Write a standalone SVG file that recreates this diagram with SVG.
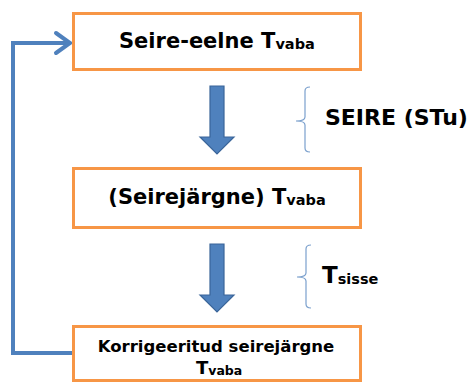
<svg xmlns="http://www.w3.org/2000/svg" width="472" height="383" viewBox="0 0 472 383">
<defs>
<style>
.box{fill:#fff;stroke:#F79646;stroke-width:3}
.t{font-family:"DejaVu Sans",Verdana,sans-serif;font-weight:bold;fill:#000}
.down{fill:#4F81BD;stroke:#3A6599;stroke-width:1.2}
.brace{fill:none;stroke:#7BA0CD;stroke-width:1.2}
.conn{fill:none;stroke:#4F81BD;stroke-width:4;stroke-linejoin:miter}
</style>
</defs>
<rect width="472" height="383" fill="#fff"/>
<g id="connectors">
<polyline class="conn" points="73,353 13,353 13,43 70,43"/>
<polyline class="conn" points="56,33 70,43 56,53" stroke-width="4.5" stroke-linecap="round" stroke-linejoin="round"/>
<path id="arrow1" class="down" d="M210,86 H224 V137 H234 L217,154 L200,137 H210 Z"/>
<path id="arrow2" class="down" d="M210,244 H224 V295 H234 L217,312 L200,295 H210 Z"/>
<path class="brace" d="M310,87 Q305,87 305,91 V117 Q305,121 296,121 Q305,121 305,125 V148 Q305,152 310,152"/>
<path class="brace" d="M311,245 Q306,245 306,249 V273 Q306,277 297,277 Q306,277 306,281 V304 Q306,308 311,308"/>
</g>
<g id="node1">
<rect class="box" x="73.5" y="13.5" width="287" height="56"/>
<text class="t" x="119" y="48" font-size="21">Seire-eelne T<tspan font-size="14.5" dy="1">vaba</tspan></text>
</g>
<g id="node2">
<rect class="box" x="73.5" y="168.5" width="287" height="59"/>
<text class="t" x="217" y="204" font-size="21" text-anchor="middle">(Seirejärgne) T<tspan font-size="14.5" dy="1">vaba</tspan></text>
</g>
<g id="node3">
<rect class="box" x="73.5" y="326.5" width="287" height="54"/>
<text class="t" x="216" y="352" font-size="16.5" text-anchor="middle">Korrigeeritud seirejärgne</text>
<text class="t" x="196" y="374" font-size="18">T<tspan font-size="12.5" dy="1">vaba</tspan></text>
</g>
<g id="label-seire">
<text class="t" x="325" y="125" font-size="22">SEIRE (STu)</text>
</g>
<g id="label-tsisse">
<text class="t" x="322" y="283" font-size="23">T<tspan font-size="14.5" dy="1">sisse</tspan></text>
</g>
</svg>
